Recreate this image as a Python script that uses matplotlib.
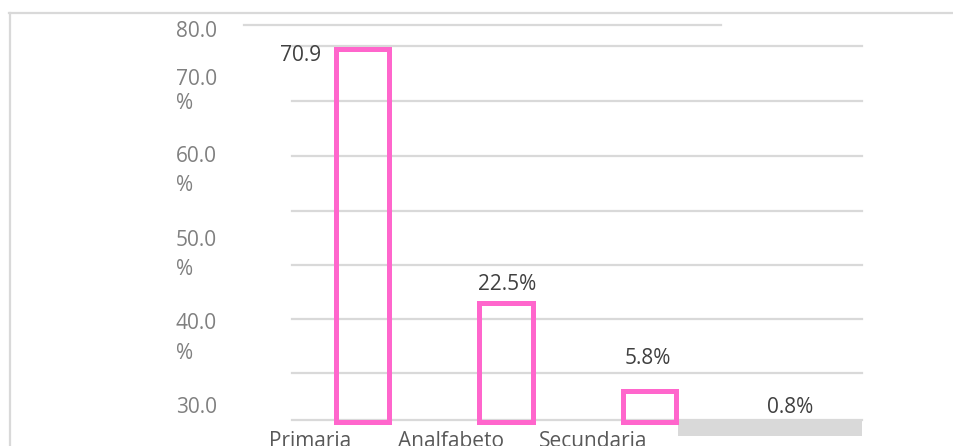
import numpy as np
import matplotlib.pyplot as plt
from matplotlib.lines import Line2D

# datos
categorias = ['Primaria', 'Analfabeto', 'Secundaria', 'Otro']
porcentajes = [70.9, 22.5, 5.8, 0.8]
etiquetas = ['70.9', '22.5%', '5.8%', '0.8%']
ticks_y = ['80.0', '70.0', '60.0', '50.0', '40.0', '30.0']

plt.rcParams['font.family'] = ['Open Sans', 'DejaVu Sans']

W, H = 954, 446
fig = plt.figure(figsize=(W / 100, H / 100), dpi=100)

def fx(px):
    return px / W

def fy(py):
    return 1 - py / H

# escala: centro de barra 0 en px 362.5, paso 143.5 px; base en px 421.5, 5.254 px por %
x0, paso = 362.5, 143.5
y0, esc = 421.5, 5.254
ax = fig.add_axes([0, 0, 1, 1])
ax.set_xlim((0 - x0) / paso, (W - x0) / paso)
ax.set_ylim((y0 - H) / esc, y0 / esc)
ax.axis('off')

gris = '#d9d9d9'
rosa = '#ff66cc'

# marco y lineas de cuadricula (decorativas, en pixeles)
lineas = [((9, 954), (13, 13)), ((10, 10), (13, 446)),
          ((244, 721), (25, 25))]
for yy in [46, 101.5, 156, 210.5, 264.5, 319, 373, 420]:
    lineas.append(((292, 862), (yy, yy)))
for (xa, xb), (ya, yb) in lineas:
    fig.add_artist(Line2D([fx(xa), fx(xb)], [fy(ya), fy(yb)], color=gris,
                          linewidth=1.6, transform=fig.transFigure, zorder=-1))

# barras
x = np.arange(len(categorias))
ax.bar(x[:3], porcentajes[:3], width=0.376, fill=False, edgecolor=rosa,
       linewidth=3.6, joinstyle='miter', zorder=3)
ax.bar((678 - x0) / paso, 17 / esc, bottom=(y0 - 436) / esc,
       width=(862 - 678) / paso, align='edge', color=gris, zorder=2)

# etiquetas eje y
ty_num = [37, 85, 162, 246, 329, 413]
ty_pct = [None, 109, 191, 275, 359, None]
for t, yn, yp in zip(ticks_y, ty_num, ty_pct):
    fig.text(fx(176), fy(yn), t, fontsize=15, color='#808080', va='baseline')
    if yp is not None:
        fig.text(fx(176), fy(yp), '%', fontsize=15, color='#808080', va='baseline')

# etiquetas de datos
pos_lab = [(321, 61, 'right'), (507, 290, 'center'), (648, 364, 'center'), (790, 413, 'center')]
for s, (px, py, ha) in zip(etiquetas, pos_lab):
    fig.text(fx(px), fy(py), s, fontsize=15, color='#404040', ha=ha, va='baseline')

# etiquetas eje x
pos_cat = [310, 451, 593]
for s, px in zip(categorias[:3], pos_cat):
    fig.text(fx(px), fy(447), s, fontsize=15, color='#595959', ha='center', va='baseline')

fig.savefig('out.png', dpi=100)
